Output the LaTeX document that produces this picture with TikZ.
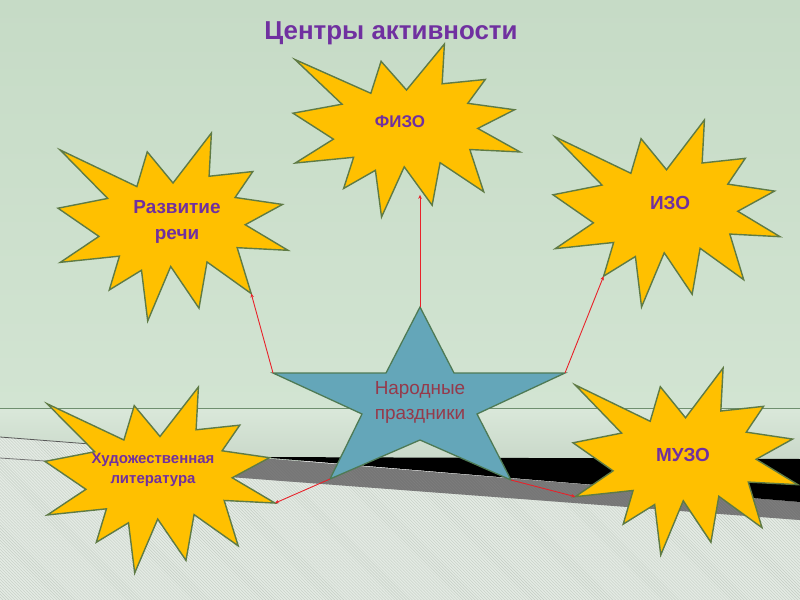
\documentclass[tikz,border=0pt]{standalone}
\usepackage{fontspec}
\setmainfont{Liberation Sans}
\usetikzlibrary{arrows.meta,calc,patterns}
\definecolor{bgTop}{HTML}{C6DBC6}
\definecolor{bgMid}{HTML}{D2E4D2}
\definecolor{bgLow}{HTML}{DAE8DA}
\definecolor{bgBand}{HTML}{C9D8C9}
\definecolor{bgLine}{HTML}{6F8F6F}
\definecolor{floorLt}{HTML}{E4EBE4}
\definecolor{floorHatch}{HTML}{C2CCC2}
\definecolor{bandGray}{HTML}{767676}
\definecolor{burstGold}{HTML}{FFC000}
\definecolor{burstEdge}{HTML}{5F7B45}
\definecolor{starTeal}{HTML}{64A6B9}
\definecolor{starEdge}{HTML}{4E7A55}
\definecolor{txtPurple}{HTML}{7030A0}
\definecolor{txtMaroon}{HTML}{953A4B}
\definecolor{linkRed}{HTML}{E8222A}

% corners of one burst, in a unit box
\newcommand{\burstpts}{0.009/0.090, 0.343/0.285, 0.388/0.100, 0.500/0.266,
  0.667/0.000, 0.657/0.230, 0.847/0.205, 0.770/0.343, 0.976/0.380, 0.814/0.488,
  1.000/0.624, 0.779/0.610, 0.840/0.854, 0.648/0.686, 0.613/0.932, 0.490/0.710,
  0.390/1.000, 0.363/0.730, 0.223/0.835, 0.267/0.655, 0.010/0.688, 0.178/0.550,
  0.000/0.400, 0.216/0.348}
% \burst{name}{left}{top}{width}{height}
\newcommand{\burst}[5]{%
  \begin{scope}[shift={(#2,#3)}, x=#4bp, y=-#5bp]
    \foreach \bx/\by [count=\i] in \burstpts
      \coordinate (#1-\i) at (\bx,\by);
    \draw[burstbox] (#1-1) \foreach \i in {2,...,24}{ -- (#1-\i)} -- cycle;
  \end{scope}}

\begin{document}
\begin{tikzpicture}[
      x=1bp, y=-1bp,
      burstbox/.style={draw=burstEdge, line width=1.4bp, fill=burstGold},
      starbox/.style={draw=starEdge, line width=1.3bp, fill=starTeal},
      lbl/.style={align=center, text=txtPurple, font=\bfseries\fontsize{19}{27}\selectfont},
      link/.style={draw=linkRed, line width=0.9bp, -{Stealth[length=4bp, width=3.5bp]}},
    ]
    \useasboundingbox (0,0) rectangle (800,600);

    % ---------- fond ----------
    \shade[top color=bgTop, bottom color=bgMid] (0,0) rectangle (800,408);
    \shade[top color=bgLow, bottom color=bgBand] (0,408) rectangle (800,460);
    \draw[bgLine, line width=0.9bp] (0,408) -- (800,408);

    \fill[floorLt] (0,437) -- (800,502) -- (800,600) -- (0,600) -- cycle;
    \fill[pattern=north west lines, pattern color=floorHatch]
      (0,437) -- (800,502) -- (800,600) -- (0,600) -- cycle;
    \fill[bandGray] (150,449) -- (800,502) -- (800,520) -- (150,471) -- cycle;
    \fill[pattern=north west lines, pattern color=black!50]
      (150,449) -- (800,502) -- (800,520) -- (150,471) -- cycle;
    \fill[black] (259,457) -- (800,459) -- (800,502) -- cycle;
    \draw[black!65, line width=0.8bp] (0,437) -- (90,444);
    \draw[black!55, line width=0.8bp] (0,458) -- (60,462);

    % ---------- titre ----------
    \node[text=txtPurple, font=\bfseries\fontsize{26}{30}\selectfont] (title) at (391,33)
      {Центры активности};

    % ---------- etoile centrale ----------
    \coordinate (star-top)   at (420,307);
    \coordinate (star-left)  at (273,373);
    \coordinate (star-right) at (565,373);
    \coordinate (star-bl)    at (330,479);
    \coordinate (star-br)    at (511,480);
    \draw[starbox] (star-top) -- (454,373) -- (star-right) -- (477,414) -- (star-br)
      -- (420,440) -- (star-bl) -- (362,414) -- (star-left) -- (386,373) -- cycle;
    \node[align=center, text=txtMaroon, font=\fontsize{19}{25}\selectfont] (star) at (420,402)
      {Народные\\праздники};

    % ---------- explosions ----------
    \burst{fizo}{293}{44}{227}{173}
    \burst{razv}{58}{133}{230}{188}
    \burst{izo}{553}{120}{227}{187}
    \burst{hud}{45}{387}{230}{186}
    \burst{muzo}{573}{368}{225}{187}

    \node[lbl, font=\bfseries\fontsize{17}{20}\selectfont] (fizo-txt) at (400,122) {ФИЗО};
    \node[lbl] (razv-txt) at (177,222) {Развитие\\речи};
    \node[lbl] (izo-txt)  at (670,203) {ИЗО};
    \node[lbl, font=\bfseries\fontsize{15}{20}\selectfont] (hud-txt) at (153,470)
      {Художественная\\литература};
    \node[lbl] (muzo-txt) at (683,455) {МУЗО};

    % ---------- liaisons ----------
    \coordinate (fizo-tip) at ($(fizo-16)!0.73!(fizo-15)$);
    \draw[link] (star-top)   -- (star-top |- fizo-tip);
    \draw[link] (star-left)  -- (razv-13);
    \draw[link] (star-right) -- (izo-19);
    \draw[link] (star-bl)    -- (hud-11);
    \draw[link] (star-br)    -- (muzo-21);
  \end{tikzpicture}
\end{document}
